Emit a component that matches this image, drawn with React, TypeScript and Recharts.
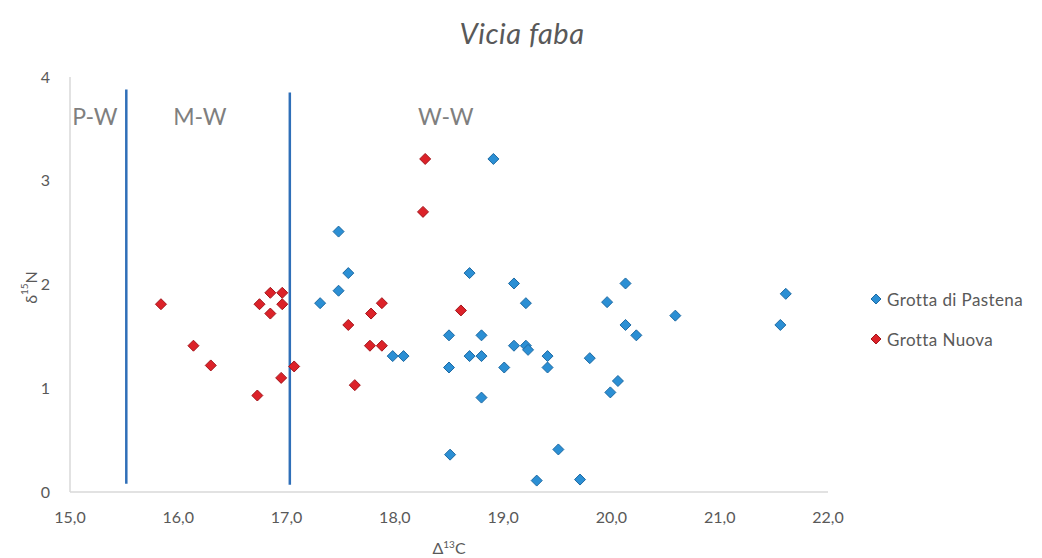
import React from 'react';
import {
  ScatterChart,
  Scatter,
  XAxis,
  YAxis,
  ReferenceLine,
  ReferenceDot,
  Legend,
} from 'recharts';

// ---- Data ----
const pastenaX = [
  18.91, 17.48, 17.57, 17.48, 17.31, 17.98, 18.08, 18.5, 18.5, 18.69, 18.69, 18.8,
  18.8, 18.8, 19.01, 19.1, 19.21, 19.1, 19.21, 19.23, 19.41, 19.41, 20.13, 19.96,
  20.59, 20.13, 20.23, 19.8, 20.06, 19.99, 18.51, 19.51, 19.31, 19.71, 21.61, 21.56,
];
const pastenaY = [
  3.21, 2.51, 2.11, 1.94, 1.82, 1.31, 1.31, 1.51, 1.2, 2.11, 1.31, 1.51,
  1.31, 0.91, 1.2, 2.01, 1.82, 1.41, 1.41, 1.37, 1.31, 1.2, 2.01, 1.83,
  1.7, 1.61, 1.51, 1.29, 1.07, 0.96, 0.36, 0.41, 0.11, 0.12, 1.91, 1.61,
];
const nuovaX = [
  15.84, 16.14, 16.3, 16.73, 16.75, 16.85, 16.85, 16.96, 16.96, 16.95, 17.07, 17.57,
  17.63, 17.78, 17.88, 17.77, 17.88, 18.28, 18.26, 18.61,
];
const nuovaY = [
  1.81, 1.41, 1.22, 0.93, 1.81, 1.92, 1.72, 1.92, 1.81, 1.1, 1.21, 1.61,
  1.03, 1.72, 1.82, 1.41, 1.41, 3.21, 2.7, 1.75,
];

const xTicks = [15, 16, 17, 18, 19, 20, 21, 22];
const yTicks = [0, 1, 2, 3, 4];

const boundaryX = [15.52, 17.03];
const boundaryTop = [3.88, 3.85];
const boundaryBottom = [0.08, 0.07];

const zoneLabels = ['P-W', 'M-W', 'W-W'];
const zoneX = [15.23, 16.2, 18.47];
const zoneY = 3.62;

const seriesNames = ['Grotta di Pastena', 'Grotta Nuova'];
const seriesFill = ['#2b8fd4', '#dc2229'];
const seriesStroke = ['#1e6aa3', '#a3161c'];

const pastenaData = pastenaX.map((x, i) => ({ x, y: pastenaY[i] }));
const nuovaData = nuovaX.map((x, i) => ({ x, y: nuovaY[i] }));

const FONT = 'Lato, "Open Sans", sans-serif';
const TEXT = '#595959';

const makeDiamond = (fill: string, stroke: string) => (props: any) => {
  const { cx, cy } = props;
  const r = 5.5;
  return (
    <polygon
      points={`${cx},${cy - r} ${cx + r},${cy} ${cx},${cy + r} ${cx - r},${cy}`}
      fill={fill}
      stroke={stroke}
      strokeWidth={1}
    />
  );
};

const XLabel = (props: any) => {
  const vb = props.viewBox || { x: 62, y: 484, width: 758, height: 66 };
  const cx = vb.x + vb.width / 2;
  const y = vb.y + vb.height - 4;
  return (
    <text x={cx} y={y} textAnchor="middle" fill={TEXT} fontSize={16} fontFamily={FONT}>
      Δ
      <tspan dy={-6} fontSize={10}>13</tspan>
      <tspan dy={6}>C</tspan>
    </text>
  );
};

const YLabel = (props: any) => {
  const vb = props.viewBox || { x: 0, y: 69, width: 62, height: 415 };
  const cx = 22;
  const cy = vb.y + vb.height / 2 + 3;
  return (
    <text
      x={cx}
      y={cy}
      textAnchor="middle"
      dominantBaseline="central"
      transform={`rotate(-90, ${cx}, ${cy})`}
      fill={TEXT}
      fontSize={16}
      fontFamily={FONT}
    >
      δ
      <tspan dy={-6} fontSize={10}>15</tspan>
      <tspan dy={6}>N</tspan>
    </text>
  );
};

const LegendContent = () => (
  <div style={{ fontFamily: FONT, fontSize: 17, color: TEXT, letterSpacing: 0.4 }}>
    {seriesNames.map((name, i) => (
      <div key={name} style={{ display: 'flex', alignItems: 'center', height: 20, marginBottom: 20 }}>
        <svg width={12} height={12} style={{ marginRight: 5 }}>
          <polygon points="6,1 11,6 6,11 1,6" fill={seriesFill[i]} stroke={seriesStroke[i]} strokeWidth={1} />
        </svg>
        <span>{name}</span>
      </div>
    ))}
  </div>
);

export default function App() {
  return (
    <div style={{ position: 'relative', width: 1026, height: 550, background: '#ffffff' }}>
      <div
        style={{
          position: 'absolute',
          left: 0,
          width: 1026,
          top: 7,
          textAlign: 'center',
          fontFamily: FONT,
          fontStyle: 'italic',
          fontSize: 29,
          color: TEXT,
          letterSpacing: 0.5,
        }}
      >
        <span style={{ position: 'relative', left: 1 }}>Vicia faba</span>
      </div>
      <ScatterChart
        width={1026}
        height={550}
        margin={{ top: 69, right: 206, bottom: 0, left: 0 }}
      >
        <XAxis
          type="number"
          dataKey="x"
          domain={[15, 22]}
          ticks={xTicks}
          allowDataOverflow
          axisLine={{ stroke: '#d9d9d9', strokeWidth: 1.5 }}
          tickLine={false}
          tickSize={6}
          tickMargin={14}
          height={66}
          tick={{ fill: TEXT, fontSize: 16, fontFamily: FONT }}
          tickFormatter={(v: number) => v.toFixed(1).replace('.', ',')}
          label={<XLabel />}
        />
        <YAxis
          type="number"
          dataKey="y"
          domain={[0, 4]}
          ticks={yTicks}
          allowDataOverflow
          axisLine={{ stroke: '#d9d9d9', strokeWidth: 1.5 }}
          tickLine={false}
          tickSize={6}
          tickMargin={14}
          width={62}
          tick={{ fill: TEXT, fontSize: 16, fontFamily: FONT }}
          label={<YLabel />}
        />
        {boundaryX.map((bx, i) => (
          <ReferenceLine
            key={'b' + i}
            segment={[
              { x: bx, y: boundaryBottom[i] },
              { x: bx, y: boundaryTop[i] },
            ]}
            stroke="#2f6fb8"
            strokeWidth={2.5}
          />
        ))}
        {zoneLabels.map((lab, i) => (
          <ReferenceDot
            key={lab}
            x={zoneX[i]}
            y={zoneY}
            r={0}
            fill="none"
            stroke="none"
            label={{ value: lab, position: 'center', fill: '#7f7f7f', fontSize: 23, fontFamily: FONT }}
          />
        ))}
        <Scatter
          name={seriesNames[0]}
          data={pastenaData}
          isAnimationActive={false}
          fill={seriesFill[0]}
          shape={makeDiamond(seriesFill[0], seriesStroke[0])}
        />
        <Scatter
          name={seriesNames[1]}
          data={nuovaData}
          isAnimationActive={false}
          fill={seriesFill[1]}
          shape={makeDiamond(seriesFill[1], seriesStroke[1])}
        />
        <Legend
          layout="vertical"
          align="center"
          verticalAlign="middle"
          content={<LegendContent />}
          wrapperStyle={{ left: 862, top: 281, width: 176, height: 80 }}
        />
      </ScatterChart>
    </div>
  );
}
